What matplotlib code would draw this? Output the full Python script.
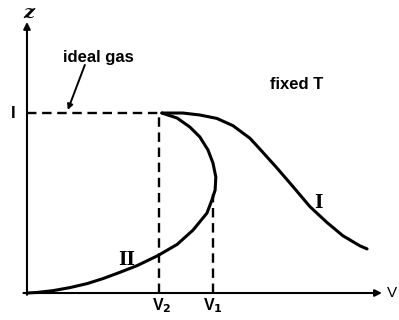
import numpy as np
import matplotlib.pyplot as plt

# compressibility factor z against volume V at fixed T
# branch I: single smooth decay
v_I = [3.80, 4.39, 4.87, 5.35, 5.80, 6.28, 6.56, 7.04, 7.49, 7.97, 8.45, 8.90, 9.38, 9.58]
z_I = [1.00, 1.00, 0.989, 0.970, 0.930, 0.860, 0.800, 0.695, 0.592, 0.480, 0.392, 0.318, 0.262, 0.245]

# branch II: folds back past V1 and runs down to the origin
v_II = [3.80, 4.23, 4.59, 4.87, 5.10, 5.24, 5.32, 5.30, 5.21, 5.07, 4.68, 4.23, 3.69,
        3.10, 2.62, 2.14, 1.69, 1.21, 0.73, 0.28, 0.0]
z_II = [1.00, 0.972, 0.922, 0.867, 0.794, 0.722, 0.644, 0.572, 0.517, 0.444, 0.350, 0.270, 0.208,
        0.152, 0.115, 0.080, 0.052, 0.030, 0.013, 0.003, 0.0]

z_ideal = 1.0
V2 = 3.72
V1 = 5.24
z_at_V1 = 0.55

plt.rcParams['font.family'] = ['Liberation Sans', 'DejaVu Sans']

fig = plt.figure(figsize=(3.99, 3.2), dpi=100)
ax = fig.add_axes([0, 0, 1, 1])
ax.set_xlim(-0.76, 10.48)
ax.set_ylim(-0.15, 1.628)
ax.axis('off')

lw = 2.2
ax.plot(v_I, z_I, color='black', lw=lw, solid_capstyle='round', solid_joinstyle='round')
ax.plot(v_II, z_II, color='black', lw=lw, solid_capstyle='round', solid_joinstyle='round')

# dashed guides
dash = dict(color='black', lw=1.7, dashes=(4, 2.4))
ax.plot([0, V2], [z_ideal, z_ideal], **dash)
ax.plot([V2, V2], [0, z_ideal], **dash)
ax.plot([V1, V1], [0, z_at_V1], **dash)

# axes with arrows
ax.annotate('', xy=(10.0, 0), xytext=(-0.1, 0),
            arrowprops=dict(arrowstyle='-|>', color='black', lw=1.5,
                            mutation_scale=10, shrinkA=0, shrinkB=0))
ax.annotate('', xy=(0, 1.506), xytext=(0, -0.01),
            arrowprops=dict(arrowstyle='-|>', color='black', lw=1.5,
                            mutation_scale=10, shrinkA=0, shrinkB=0))

# labels
ax.text(0.05, 1.555, 'z', fontsize=14, fontweight='bold', fontstyle='italic',
        ha='center', va='center', family='DejaVu Serif')
ax.text(10.28, 0.0, 'V', fontsize=11, ha='center', va='center')
ax.text(-0.38, z_ideal, 'I', fontsize=12, fontweight='bold', ha='center', va='center')
ax.text(3.80, -0.07, 'V$_\\mathbf{2}$', fontsize=11.5, fontweight='bold', ha='center', va='center')
ax.text(5.24, -0.07, 'V$_\\mathbf{1}$', fontsize=11.5, fontweight='bold', ha='center', va='center')
ax.text(2.0, 1.31, 'ideal gas', fontsize=12, fontweight='bold', ha='center', va='center')
ax.annotate('', xy=(1.15, 1.017), xytext=(1.63, 1.267),
            arrowprops=dict(arrowstyle='-|>', color='black', lw=1.4,
                            mutation_scale=8, shrinkA=0, shrinkB=0))
ax.text(7.6, 1.16, 'fixed T', fontsize=12, fontweight='bold', ha='center', va='center')
ax.text(8.2, 0.50, 'I', fontsize=13, fontweight='bold', ha='center', va='center',
        family='DejaVu Serif')
ax.text(2.82, 0.185, 'II', fontsize=13, fontweight='bold', ha='center', va='center',
        family='DejaVu Serif')

fig.savefig('out.png', dpi=100)
